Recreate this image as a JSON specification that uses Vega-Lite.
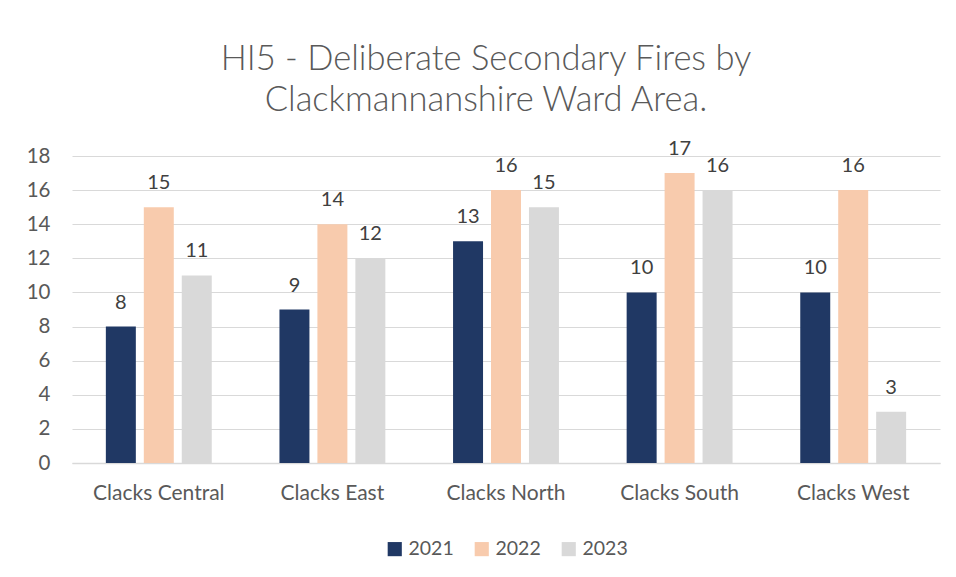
{
  "$schema": "https://vega.github.io/schema/vega-lite/v6.json",
  "width": 868,
  "height": 307,
  "autosize": {"type": "none"},
  "padding": {"left": 72, "top": 156, "right": 16, "bottom": 114},
  "background": "white",
  "title": {
    "text": ["HI5 - Deliberate Secondary Fires by", "Clackmannanshire Ward Area."],
    "font": "Lato",
    "fontSize": 34.5,
    "fontWeight": 300,
    "color": "#595959",
    "lineHeight": 41,
    "anchor": "middle",
    "dx": -20,
    "offset": 21
  },
  "data": {
    "values": [
      {"ward": "Clacks Central", "year": "2021", "value": 8},
      {"ward": "Clacks Central", "year": "2022", "value": 15},
      {"ward": "Clacks Central", "year": "2023", "value": 11},
      {"ward": "Clacks East", "year": "2021", "value": 9},
      {"ward": "Clacks East", "year": "2022", "value": 14},
      {"ward": "Clacks East", "year": "2023", "value": 12},
      {"ward": "Clacks North", "year": "2021", "value": 13},
      {"ward": "Clacks North", "year": "2022", "value": 16},
      {"ward": "Clacks North", "year": "2023", "value": 15},
      {"ward": "Clacks South", "year": "2021", "value": 10},
      {"ward": "Clacks South", "year": "2022", "value": 17},
      {"ward": "Clacks South", "year": "2023", "value": 16},
      {"ward": "Clacks West", "year": "2021", "value": 10},
      {"ward": "Clacks West", "year": "2022", "value": 16},
      {"ward": "Clacks West", "year": "2023", "value": 3}
    ]
  },
  "encoding": {
    "x": {
      "field": "ward",
      "type": "nominal",
      "sort": null,
      "scale": {"paddingInner": 0.39, "paddingOuter": 0.195},
      "axis": {
        "title": null,
        "labelAngle": 0,
        "labelFont": "Lato",
        "labelFontSize": 21,
        "labelColor": "#595959",
        "labelPadding": 19,
        "ticks": false,
        "domainColor": "#D9D9D9",
        "domainWidth": 1.5
      }
    },
    "xOffset": {
      "field": "year",
      "type": "nominal",
      "scale": {"paddingInner": 0.21, "paddingOuter": 0}
    },
    "y": {
      "field": "value",
      "type": "quantitative",
      "scale": {"domain": [0, 18]},
      "axis": {
        "title": null,
        "values": [0, 2, 4, 6, 8, 10, 12, 14, 16, 18],
        "labelFont": "Lato",
        "labelFontSize": 20.5,
        "labelColor": "#595959",
        "labelPadding": 22,
        "ticks": false,
        "domain": false,
        "gridColor": "#D9D9D9",
        "gridWidth": 1.2
      }
    }
  },
  "layer": [
    {
      "mark": {"type": "bar"},
      "encoding": {
        "color": {
          "field": "year",
          "type": "nominal",
          "scale": {"domain": ["2021", "2022", "2023"], "range": ["#203864", "#F8CBAD", "#D9D9D9"]},
          "legend": {
            "title": null,
            "orient": "bottom",
            "direction": "horizontal",
            "symbolType": "square",
            "symbolSize": 200,
            "symbolStrokeWidth": 0,
            "labelFont": "Lato",
            "labelFontSize": 19.5,
            "labelColor": "#595959",
            "columnPadding": 18,
            "offset": 36
          }
        }
      }
    },
    {
      "mark": {"type": "text", "baseline": "bottom", "dy": -14, "font": "Lato", "fontSize": 20, "color": "#404040"},
      "encoding": {
        "text": {"field": "value", "type": "quantitative"}
      }
    }
  ],
  "config": {
    "view": {"stroke": null},
    "legend": {"layout": {"bottom": {"anchor": "middle", "margin": 0}}}
  }
}
